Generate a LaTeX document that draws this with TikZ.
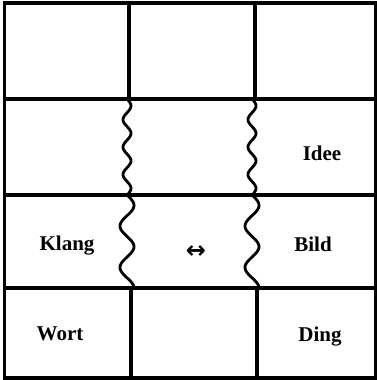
\documentclass[tikz,border=0pt]{standalone}
\usepackage{fontspec}
\setmainfont{Liberation Serif}
\newfontfamily\symfont{DejaVu Sans}
\begin{document}
\begin{tikzpicture}[x=1pt,y=-1pt,line width=3.2pt,
	word/.style={font=\fontsize{21}{24}\selectfont\bfseries,anchor=base},
	arrowsym/.style={font=\fontsize{24}{26}\selectfont\symfont\bfseries,anchor=base}]
		\useasboundingbox (0,0) rectangle (377,380);
		% Rahmen und Querlinien
		\draw (4.5,3) rectangle (375.5,378);
		\draw (4.5,99) -- (375.5,99);
		\draw (4.5,195) -- (375.5,195);
		\draw (4.5,288) -- (375.5,288);
		% senkrechte Linien
		\draw (129,3) -- (129,99);
		\draw (255,3) -- (255,99);
		\draw (131,288) -- (131,378);
		\draw (257,288) -- (257,378);
		% Wellenlinien
		\foreach \cx in {127,252}{
			\draw[line width=2.8pt] plot[domain=99:195,samples=80,smooth] ({\cx+4*sin(13.1*(\x-99))},\x);
			\draw[line width=2.8pt] plot[domain=195:288,samples=80,smooth] ({\cx+7*sin(8.7*(\x-195))},\x);
		}
		\node[word] (klang) at (67,250) {Klang};
		\node[word] (idee) at (322,160) {Idee};
		\node[word] (bild) at (313,251) {Bild};
		\node[word] (wort) at (60,340) {Wort};
		\node[word] (ding) at (320,341) {Ding};
		\node[arrowsym] (pfeil) at (196,258) {↔};
\end{tikzpicture}
\end{document}
